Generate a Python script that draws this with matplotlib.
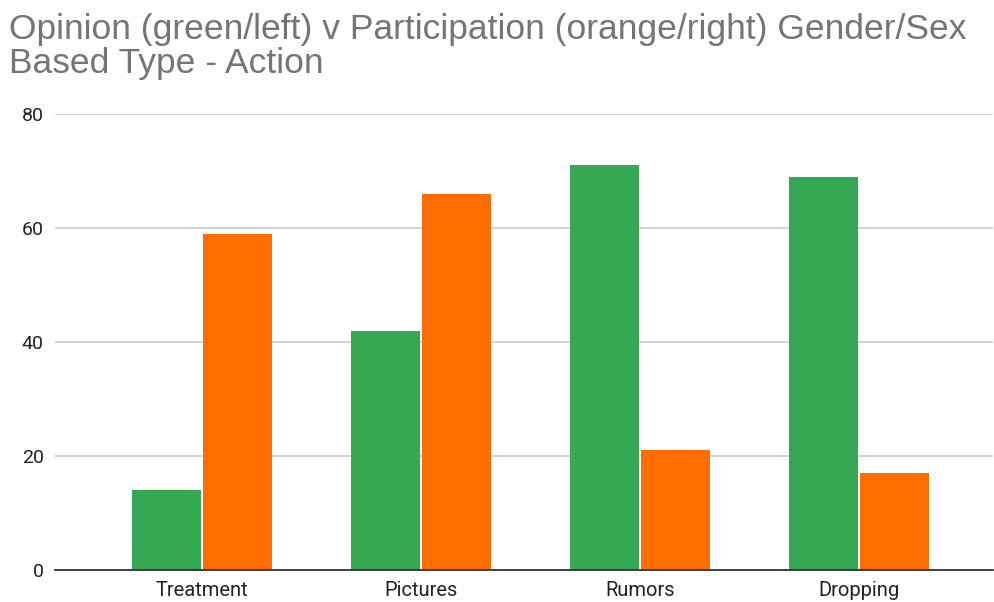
import matplotlib
matplotlib.use("Agg")
import matplotlib.pyplot as plt
import numpy as np

categories = ["Treatment", "Pictures", "Rumors", "Dropping"]
opinion = [14, 42, 71, 69]
participation = [59, 66, 21, 17]
y_ticks = [0, 20, 40, 60, 80]

green = "#34a853"
orange = "#ff6d01"

fig = plt.figure(figsize=(9.94, 6.02), dpi=100)
ax = fig.add_axes([55 / 994, 1 - 570 / 602, (993 - 55) / 994, (570 - 114) / 602])

x = np.arange(len(categories))
w = 0.315
off = 0.162
ax.bar(x - off, opinion, width=w, color=green, zorder=3, linewidth=0)
ax.bar(x + off, participation, width=w, color=orange, zorder=3, linewidth=0)

ax.set_xlim((55 - 202) / 219, (993 - 202) / 219)
ax.set_ylim(0, 80)
ax.set_yticks(y_ticks)
ax.set_xticks(x)
ax.set_xticklabels(categories)

for s in ["top", "right", "left"]:
    ax.spines[s].set_visible(False)
ax.spines["bottom"].set_color("#333333")
ax.spines["bottom"].set_linewidth(1.3)
ax.spines["bottom"].set_zorder(4)

ax.yaxis.grid(True, color="#cccccc", linewidth=1.2, zorder=0)
ax.tick_params(axis="both", length=0, labelcolor="#222222")
ax.tick_params(axis="y", pad=8, labelsize=14)
ax.tick_params(axis="x", pad=8, labelsize=14.5)
for lbl in ax.get_xticklabels() + ax.get_yticklabels():
    lbl.set_fontfamily("Roboto")

fig.text(9 / 994, 1 - 13 / 602,
         "Opinion (green/left) v Participation (orange/right) Gender/Sex\nBased Type - Action",
         ha="left", va="top", fontsize=25.5, color="#757575",
         family="Liberation Sans", linespacing=1.03)

fig.savefig("out.png", dpi=100)
